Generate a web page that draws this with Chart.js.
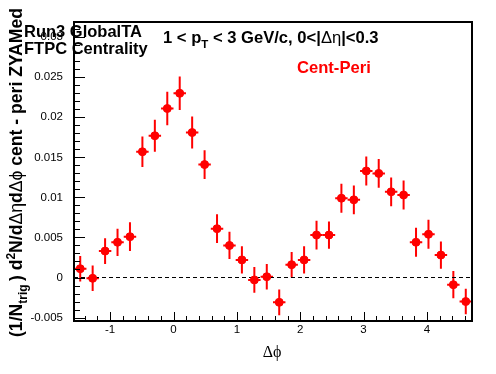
<!DOCTYPE html>
<html>
<head>
<meta charset="utf-8">
<script src="https://cdn.jsdelivr.net/npm/chart.js@4"></script>
<style>
  html, body { margin: 0; padding: 0; background: #fff; }
  canvas { display: block; }
</style>
</head>
<body>
<canvas id="mainChart" width="496" height="374"></canvas>
<script>
// bin centres in delta phi (32 bins over -pi/2 .. 3pi/2)
const dphi = [
  -1.4726, -1.2763, -1.0799, -0.8836, -0.6872, -0.4909, -0.2945, -0.0982,
  0.0982, 0.2945, 0.4909, 0.6872, 0.8836, 1.0799, 1.2763, 1.4726,
  1.669, 1.8653, 2.0617, 2.258, 2.4544, 2.6507, 2.8471, 3.0434,
  3.2398, 3.4361, 3.6325, 3.8288, 4.0252, 4.2215, 4.4179, 4.6142,
];
// cent - peri, ZYAM subtracted
const yield_ = [
  0.0011, -0.0001, 0.0033, 0.0044, 0.0051, 0.0157, 0.0177, 0.0211,
  0.023, 0.0181, 0.0141, 0.0061, 0.004, 0.0022, -0.0003, 0.0001,
  -0.0031, 0.0016, 0.0022, 0.0053, 0.0053, 0.0099, 0.0097, 0.0133,
  0.013, 0.0107, 0.0103, 0.0044, 0.0054, 0.0028, -0.0009, -0.003,
];
const yErr = [
  0.0016, 0.0016, 0.0016, 0.0017, 0.0018, 0.0019, 0.002, 0.0021,
  0.0021, 0.002, 0.0018, 0.0018, 0.0017, 0.0017, 0.0016, 0.0016,
  0.0016, 0.0016, 0.0017, 0.0018, 0.0017, 0.0018, 0.0018, 0.0018,
  0.0018, 0.0018, 0.0018, 0.0018, 0.0018, 0.0017, 0.0017, 0.0016,
];
const xErr = 0.0982; // half bin width

const xMin = -Math.PI / 2;
const xMax = (3 * Math.PI) / 2;
const yMin = -0.00543;
const yMax = 0.0319;
const xTicks = [-1, 0, 1, 2, 3, 4];
const yTicks = [-0.005, 0, 0.005, 0.01, 0.015, 0.02, 0.025, 0.03];

const RED = "#ff0000";
const SANS = '"Liberation Sans", Arial, Helvetica, sans-serif';

// draw a run of text pieces (with sub/superscripts) starting at x,y
function drawRich(ctx, parts, x, y) {
  let cx = x;
  for (const p of parts) {
    ctx.font = p.font;
    ctx.fillText(p.t, cx, y + (p.dy || 0));
    cx += ctx.measureText(p.t).width;
  }
}

const rootStyle = {
  id: "rootStyle",
  beforeDatasetsDraw(chart) {
    const { ctx, scales } = chart;
    const xs = scales.x, ys = scales.y;
    ctx.save();
    ctx.strokeStyle = RED;
    ctx.lineWidth = 2;
    dphi.forEach((x, i) => {
      const px = xs.getPixelForValue(x);
      const py = ys.getPixelForValue(yield_[i]);
      ctx.beginPath();
      ctx.moveTo(px, ys.getPixelForValue(yield_[i] - yErr[i]));
      ctx.lineTo(px, ys.getPixelForValue(yield_[i] + yErr[i]));
      ctx.moveTo(xs.getPixelForValue(x - xErr), py);
      ctx.lineTo(xs.getPixelForValue(x + xErr), py);
      ctx.stroke();
    });
    ctx.restore();
  },
  afterDraw(chart) {
    const { ctx, chartArea: a, scales } = chart;
    const xs = scales.x, ys = scales.y;
    ctx.save();

    // inward ticks
    ctx.strokeStyle = "#000";
    ctx.lineWidth = 1;
    ctx.beginPath();
    for (let k = -6; k <= 32; k++) {
      const v = k / 1000;
      if (v < yMin || v > yMax) continue;
      const py = Math.round(ys.getPixelForValue(v)) + 0.5;
      const len = k % 5 === 0 ? 11 : 6;
      ctx.moveTo(a.left, py);
      ctx.lineTo(a.left + len, py);
    }
    for (let k = -8; k <= 24; k++) {
      const v = k / 5;
      if (v < xMin || v > xMax) continue;
      const px = Math.round(xs.getPixelForValue(v)) + 0.5;
      const len = k % 5 === 0 ? 9 : 5;
      ctx.moveTo(px, a.bottom);
      ctx.lineTo(px, a.bottom - len);
    }
    ctx.stroke();

    // frame
    ctx.lineWidth = 2;
    ctx.strokeRect(a.left, a.top, a.right - a.left, a.bottom - a.top);

    // labels
    ctx.fillStyle = "#000";
    ctx.textBaseline = "alphabetic";
    ctx.textAlign = "left";
    const B16 = "bold 16.6px " + SANS;
    const B11 = "bold 11.5px " + SANS;
    const N16 = "16.6px " + SANS;

    drawRich(ctx, [{ t: "Run3 GlobalTA", font: "bold 16.5px " + SANS }], 24, 36.5);
    drawRich(ctx, [{ t: "FTPC Centrality", font: "bold 16.5px " + SANS }], 24, 54);

    drawRich(ctx, [
      { t: "1 < p", font: B16 },
      { t: "T", font: B11, dy: 5 },
      { t: " < 3 GeV/c, 0<|", font: B16 },
      { t: "\u0394\u03b7", font: N16 },
      { t: "|<0.3", font: B16 },
    ], 163, 43);

    ctx.fillStyle = RED;
    drawRich(ctx, [{ t: "Cent-Peri", font: "bold 16.6px " + SANS }], 297, 73);

    // x title
    ctx.fillStyle = "#000";
    ctx.font = '16px "Liberation Serif", "DejaVu Serif", serif';
    ctx.textAlign = "center";
    ctx.fillText("\u0394\u03d5", 272, 357);

    // y title (rotated)
    const YB = "bold 17.6px " + SANS;
    const YS = "bold 12px " + SANS;
    const YN = "17.6px " + SANS;
    ctx.textAlign = "left";
    ctx.translate(22, 337);
    ctx.rotate(-Math.PI / 2);
    drawRich(ctx, [
      { t: "(1/N", font: YB },
      { t: "trig ", font: YS, dy: 5 },
      { t: ") d", font: YB },
      { t: "2", font: YS, dy: -7 },
      { t: "N/d", font: YB },
      { t: "\u0394\u03b7", font: YN },
      { t: "d", font: YB },
      { t: "\u0394\u03d5", font: YN },
      { t: " cent - peri ZYAMed", font: YB },
    ], 0, 0);
    ctx.restore();
  },
};

const ctx = document.getElementById("mainChart").getContext("2d");
new Chart(ctx, {
  type: "scatter",
  data: {
    datasets: [
      {
        label: "Cent-Peri",
        data: dphi.map((x, i) => ({ x, y: yield_[i] })),
        pointStyle: "circle",
        pointRadius: 4,
        pointBorderWidth: 1,
        backgroundColor: RED,
        borderColor: RED,
        showLine: false,
      },
      {
        type: "line",
        label: "zero",
        data: [{ x: xMin, y: 0 }, { x: xMax, y: 0 }],
        borderColor: "#000",
        borderWidth: 1.2,
        borderDash: [4, 3],
        pointRadius: 0,
        fill: false,
      },
    ],
  },
  options: {
    responsive: false,
    animation: false,
    events: [],
    layout: { padding: { left: 0, top: 22, right: 24, bottom: 0 } },
    plugins: { legend: { display: false }, tooltip: { enabled: false } },
    scales: {
      x: {
        type: "linear",
        min: xMin,
        max: xMax,
        grid: { display: false },
        border: { display: false },
        afterBuildTicks: (s) => { s.ticks = xTicks.map((v) => ({ value: v })); },
        afterFit: (s) => { s.height = 53; },
        ticks: {
          autoSkip: false,
          maxRotation: 0,
          padding: -6,
          color: "#000",
          font: { family: SANS, size: 11.5 },
          callback: (v) => String(v),
        },
      },
      y: {
        type: "linear",
        min: yMin,
        max: yMax,
        grid: { display: false },
        border: { display: false },
        afterBuildTicks: (s) => { s.ticks = yTicks.map((v) => ({ value: v })); },
        afterFit: (s) => { s.width = 74; },
        ticks: {
          autoSkip: false,
          padding: 3,
          color: "#000",
          font: { family: SANS, size: 11.5 },
          callback: (v) => String(+v.toFixed(3)),
        },
      },
    },
  },
  plugins: [rootStyle],
});
</script>
</body>
</html>
